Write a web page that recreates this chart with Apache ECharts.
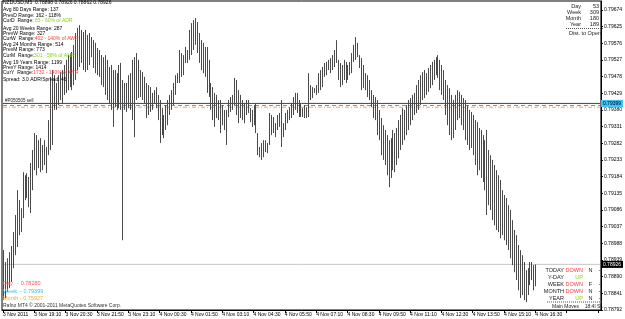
<!DOCTYPE html>
<html>
<head>
<meta charset="utf-8">
<script src="https://cdn.jsdelivr.net/npm/echarts@6/dist/echarts.min.js"></script>
<style>
  html, body { margin: 0; padding: 0; background: #fff; }
  #chart { width: 625px; height: 319px; }
</style>
</head>
<body>
<div id="chart"></div>
<script>
// NZDUSD M5 bars, 3 Nov 2011 17:50 -> 4 Nov 16:30 (high / low of each bar)
const highs = [
  0.78968, 0.78933, 0.78944, 0.78962, 0.78980, 0.79021, 0.79071, 0.79144, 0.79115, 0.79091,
  0.79197, 0.79188, 0.79194, 0.79183, 0.79224, 0.79262, 0.79312, 0.79306, 0.79291, 0.79297,
  0.79277, 0.79291, 0.79271, 0.79350, 0.79477, 0.79497, 0.79482, 0.79459, 0.79482, 0.79491,
  0.79497, 0.79512, 0.79527, 0.79541, 0.79547, 0.79550, 0.79571, 0.79606, 0.79621, 0.79629,
  0.79615, 0.79609, 0.79615, 0.79600, 0.79606, 0.79594, 0.79585, 0.79577, 0.79562, 0.79556,
  0.79541, 0.79535, 0.79541, 0.79527, 0.79506, 0.79512, 0.79497, 0.79497, 0.79488, 0.79512,
  0.79518, 0.79468, 0.79459, 0.79459, 0.79482, 0.79488, 0.79527, 0.79535, 0.79547, 0.79527,
  0.79497, 0.79491, 0.79477, 0.79459, 0.79453, 0.79447, 0.79430, 0.79438, 0.79447, 0.79424,
  0.79409, 0.79385, 0.79365, 0.79394, 0.79409, 0.79424, 0.79438, 0.79459, 0.79482, 0.79488,
  0.79556, 0.79547, 0.79541, 0.79565, 0.79556, 0.79615, 0.79635, 0.79644, 0.79650, 0.79638,
  0.79606, 0.79585, 0.79577, 0.79565, 0.79565, 0.79527, 0.79459, 0.79447, 0.79430, 0.79424,
  0.79409, 0.79409, 0.79394, 0.79380, 0.79380, 0.79409, 0.79418, 0.79424, 0.79474, 0.79468,
  0.79438, 0.79424, 0.79409, 0.79400, 0.79409, 0.79409, 0.79385, 0.79380, 0.79394, 0.79400,
  0.79312, 0.79271, 0.79283, 0.79291, 0.79291, 0.79283, 0.79371, 0.79365, 0.79359, 0.79341,
  0.79365, 0.79371, 0.79409, 0.79341, 0.79371, 0.79380, 0.79388, 0.79400, 0.79418, 0.79430,
  0.79430, 0.79409, 0.79400, 0.79385, 0.79394, 0.79388, 0.79488, 0.79453, 0.79447, 0.79444,
  0.79453, 0.79488, 0.79497, 0.79506, 0.79518, 0.79521, 0.79527, 0.79532, 0.79541, 0.79556,
  0.79585, 0.79527, 0.79518, 0.79512, 0.79527, 0.79521, 0.79512, 0.79521, 0.79547, 0.79571,
  0.79594, 0.79577, 0.79541, 0.79532, 0.79512, 0.79488, 0.79482, 0.79468, 0.79438, 0.79424,
  0.79418, 0.79409, 0.79380, 0.79356, 0.79335, 0.79321, 0.79306, 0.79291, 0.79297, 0.79321,
  0.79312, 0.79327, 0.79350, 0.79365, 0.79385, 0.79380, 0.79394, 0.79409, 0.79415, 0.79424,
  0.79430, 0.79453, 0.79468, 0.79482, 0.79491, 0.79497, 0.79488, 0.79503, 0.79512, 0.79521,
  0.79527, 0.79535, 0.79541, 0.79527, 0.79512, 0.79497, 0.79468, 0.79453, 0.79444, 0.79424,
  0.79409, 0.79424, 0.79438, 0.79433, 0.79424, 0.79415, 0.79409, 0.79394, 0.79380, 0.79374,
  0.79365, 0.79350, 0.79344, 0.79327, 0.79321, 0.79306, 0.79291, 0.79321, 0.79262, 0.79247,
  0.79233, 0.79218, 0.79203, 0.79188, 0.79174, 0.79144, 0.79130, 0.79121, 0.79100, 0.79086,
  0.79056, 0.79027, 0.79012, 0.78983, 0.78968, 0.78953, 0.78933, 0.78909, 0.78915, 0.78933,
  0.78933, 0.78924, 0.78926
];
const lows = [
  0.78821, 0.78827, 0.78845, 0.78856, 0.78874, 0.78915, 0.78953, 0.78977, 0.79012, 0.79021,
  0.79062, 0.79115, 0.79121, 0.79094, 0.79077, 0.79144, 0.79203, 0.79188, 0.79209, 0.79197,
  0.79203, 0.79218, 0.79194, 0.79247, 0.79262, 0.79277, 0.79380, 0.79380, 0.79394, 0.79409,
  0.79400, 0.79424, 0.79430, 0.79438, 0.79447, 0.79438, 0.79453, 0.79468, 0.79497, 0.79506,
  0.79518, 0.79497, 0.79491, 0.79497, 0.79512, 0.79535, 0.79503, 0.79488, 0.79482, 0.79477,
  0.79453, 0.79447, 0.79424, 0.79409, 0.79400, 0.79380, 0.79330, 0.79388, 0.79380, 0.79385,
  0.79380, 0.78997, 0.79380, 0.79374, 0.79385, 0.79380, 0.79350, 0.79300, 0.79409, 0.79415,
  0.79418, 0.79409, 0.79400, 0.79356, 0.79365, 0.79374, 0.79380, 0.79400, 0.79385, 0.79350,
  0.79283, 0.79306, 0.79297, 0.79321, 0.79335, 0.79365, 0.79380, 0.79394, 0.79424, 0.79459,
  0.79459, 0.79477, 0.79482, 0.79518, 0.79518, 0.79527, 0.79541, 0.79556, 0.79571, 0.79547,
  0.79518, 0.79497, 0.79488, 0.79477, 0.79430, 0.79418, 0.79380, 0.79350, 0.79330, 0.79356,
  0.79350, 0.79312, 0.79335, 0.79321, 0.79277, 0.79359, 0.79374, 0.79380, 0.79394, 0.79365,
  0.79341, 0.79356, 0.79350, 0.79341, 0.79365, 0.79371, 0.79344, 0.79330, 0.79335, 0.79312,
  0.79247, 0.79241, 0.79233, 0.79241, 0.79256, 0.79253, 0.79277, 0.79306, 0.79312, 0.79300,
  0.79321, 0.79330, 0.79271, 0.79300, 0.79321, 0.79341, 0.79350, 0.79356, 0.79365, 0.79380,
  0.79371, 0.79359, 0.79359, 0.79359, 0.79356, 0.79356, 0.79359, 0.79409, 0.79415, 0.79430,
  0.79424, 0.79430, 0.79438, 0.79447, 0.79477, 0.79482, 0.79497, 0.79488, 0.79497, 0.79506,
  0.79518, 0.79468, 0.79447, 0.79453, 0.79468, 0.79459, 0.79468, 0.79482, 0.79488, 0.79521,
  0.79527, 0.79535, 0.79503, 0.79438, 0.79444, 0.79438, 0.79418, 0.79409, 0.79388, 0.79356,
  0.79350, 0.79306, 0.79291, 0.79247, 0.79233, 0.79218, 0.79188, 0.79153, 0.79180, 0.79203,
  0.79197, 0.79218, 0.79238, 0.79262, 0.79277, 0.79291, 0.79306, 0.79321, 0.79335, 0.79350,
  0.79365, 0.79371, 0.79380, 0.79394, 0.79409, 0.79415, 0.79424, 0.79433, 0.79444, 0.79453,
  0.79468, 0.79482, 0.79474, 0.79438, 0.79424, 0.79409, 0.79365, 0.79335, 0.79306, 0.79291,
  0.79297, 0.79321, 0.79350, 0.79356, 0.79335, 0.79321, 0.79291, 0.79277, 0.79262, 0.79268,
  0.79247, 0.79218, 0.79188, 0.79203, 0.79180, 0.79168, 0.79144, 0.79071, 0.79100, 0.79086,
  0.79056, 0.79041, 0.79027, 0.79021, 0.79003, 0.79012, 0.78997, 0.78983, 0.78968, 0.78944,
  0.78924, 0.78903, 0.78880, 0.78850, 0.78827, 0.78836, 0.78821, 0.78815, 0.78836, 0.78865,
  0.78880, 0.78850, 0.78862
];
// one label every 16 bars (80 minutes)
const xTickLabels = [
  '3 Nov 2011', '3 Nov 19:10', '3 Nov 20:30', '3 Nov 21:50', '3 Nov 23:10', '4 Nov 00:30',
  '4 Nov 01:50', '4 Nov 03:10', '4 Nov 04:30', '4 Nov 05:50', '4 Nov 07:10', '4 Nov 08:30',
  '4 Nov 09:50', '4 Nov 11:10', '4 Nov 12:30', '4 Nov 13:50', '4 Nov 15:10', '4 Nov 16:30'
];
const barsPerLabel = 16;
const slotCount = 306; // bars + empty shift on the right
const priceMin = 0.78792, priceMax = 0.79700, priceStep = 0.00049;

const bidPrice = 0.78926;
const weekOpen = 0.79399;
const greenLevel = 0.79393;
const orangeLevel = 0.79388;

const header = 'NZDUSD,M5  0.78898 0.78926 0.78862 0.78926';
const rangeRows = [
  ['Avg 80 Days Range: 137', ''],
  ['PrevD Range: 162 - 118%', ''],
  ['CurD  Range: ', '83 - 60% of ADR', 'g'],
  ['Avg 20 Weeks Range: 287', ''],
  ['PrevW Range: 327', ''],
  ['CurW  Range:', '402 - 140% of AWR', 'r'],
  ['Avg 24 Months Range: 514', ''],
  ['PrevM Range: 773', ''],
  ['CurM  Range:', '301 - 58% of AMR', 'g'],
  ['Avg 19 Years Range: 1199', ''],
  ['PrevY Range: 1414', ''],
  ['CurY  Range:', '1732 - 140% of AYR', 'r'],
  ['Spread: 3.0 ADR/Spread: 46', '']
];
const rangeRowY = [10, 15.3, 21, 28.3, 33.7, 39, 44.7, 50, 55.7, 62.3, 67.3, 72.7, 80];

const periodNames = ['Day', 'Week', 'Month', 'Year'];
const periodValues = ['53', '309', '180', '189'];

const moveRows = [
  ['TODAY', 'DOWN', 'N', '--'],
  ['Y-DAY', 'UP', '', ''],
  ['WEEK', 'DOWN', 'F', '--'],
  ['MONTH', 'DOWN', 'N', '--'],
  ['YEAR', 'UP', 'N', '--']
];

const openRows = [
  ['Day   - 0.78280', '#ff5a5a'],
  ['Week  - 0.79399', '#3cbcf0'],
  ['Month - 0.75927', '#ffa533']
];

const FONT = '"Liberation Sans", Arial, sans-serif';
const RED = '#ff3b3b';
const GREEN = '#86d41e';

function txt(x, y, text, fill, align, size) {
  return {
    type: 'text', x: x, y: y, z: 100,
    style: {
      text: text, fill: fill || '#000', align: align || 'left', verticalAlign: 'middle',
      font: (size || 5) + 'px ' + FONT
    }
  };
}
function dotted(x1, x2, y) {
  return {
    type: 'line', z: 100,
    shape: { x1: x1, y1: y, x2: x2, y2: y },
    style: { stroke: '#555', lineWidth: 1, lineDash: [1, 1] }
  };
}

const graphics = [];
graphics.push(txt(3, 2.5, header));
rangeRows.forEach(function (row, i) {
  const y = rangeRowY[i];
  if (row[1]) {
    graphics.push({
      type: 'text', x: 3, y: y, z: 100,
      style: {
        text: '{a|' + row[0] + '}{b|' + row[1] + '}',
        verticalAlign: 'middle', font: '5px ' + FONT,
        rich: {
          a: { fill: '#000', font: '5px ' + FONT },
          b: { fill: row[2] === 'g' ? GREEN : RED, font: '5px ' + FONT }
        }
      }
    });
  } else {
    graphics.push(txt(3, y, row[0]));
  }
});
graphics.push(txt(5, 101, '#P050505 sell', '#222', 'left', 4.5));

// top-right range box
const periodY = [6.7, 12.3, 18.3, 24];
periodNames.forEach(function (n, i) {
  graphics.push(txt(581, periodY[i], n, '#222', 'right', 5.5));
  graphics.push(txt(599, periodY[i], periodValues[i], '#222', 'right', 5.5));
});
graphics.push(dotted(566, 604, 28.5));
graphics.push(txt(585, 33.5, 'Dist. to Open', '#222', 'center', 5.5));

// bottom-right main moves box
const moveY = [270.6, 277.6, 284.5, 291.4, 298.3];
moveRows.forEach(function (r, i) {
  graphics.push(txt(564, moveY[i], r[0], '#222', 'right', 5.5));
  graphics.push(txt(583, moveY[i], r[1], r[1] === 'UP' ? GREEN : RED, 'right', 5.5));
  graphics.push(txt(590.5, moveY[i], r[2], '#222', 'center', 5.5));
  graphics.push(txt(600.5, moveY[i], r[3], '#222', 'center', 5.5));
});
graphics.push(dotted(547, 603, 302));
graphics.push(txt(552, 306.2, 'Main Moves', '#222', 'left', 5));
graphics.push(txt(603, 306.2, '18:4l SL', '#222', 'right', 5));

// bottom-left open prices
const openY = [283.3, 291.7, 298.7];
openRows.forEach(function (r, i) {
  graphics.push(txt(3, openY[i], r[0], r[1], 'left', 5.5));
});
graphics.push(txt(3, 306, 'Rafno MT4 \u00a9 2001-2011 MetaQuotes Software Corp.', '#333', 'left', 5));

const slots = [];
for (let i = 0; i < slotCount; i++) slots.push(String(i));
const barData = highs.map(function (h, i) { return [i, h, lows[i]]; });

// horizontal price level drawn as a two-point line across all slots
function level(value, color, dash, z, tag) {
  return {
    type: 'line',
    data: [[0, value], [slotCount - 1, value]],
    symbol: 'none',
    silent: true,
    z: z,
    lineStyle: { color: color, width: 1, type: dash },
    endLabel: tag ? {
      show: true, distance: 1, formatter: value.toFixed(5),
      backgroundColor: tag.bg, color: tag.fg, fontSize: 5, fontFamily: FONT, padding: [1, 2]
    } : { show: false }
  };
}

const chart = echarts.init(document.getElementById('chart'));
chart.setOption({
  animation: false,
  backgroundColor: '#fff',
  grid: { left: 1, right: 19, top: 1, bottom: 9, show: true, borderColor: '#000', borderWidth: 1 },
  xAxis: {
    type: 'category',
    data: slots,
    boundaryGap: true,
    axisLine: { lineStyle: { color: '#000' } },
    axisTick: { show: true, interval: barsPerLabel - 1, alignWithLabel: true, length: 3, lineStyle: { color: '#000' } },
    axisLabel: {
      interval: barsPerLabel - 1,
      align: 'left',
      margin: 2,
      fontSize: 5,
      fontFamily: FONT,
      color: '#000',
      hideOverlap: false,
      formatter: function (v, idx) {
        const k = idx / barsPerLabel;
        return xTickLabels[k] || '';
      }
    },
    splitLine: { show: false }
  },
  yAxis: {
    type: 'value',
    position: 'right',
    min: priceMin,
    max: priceMax,
    interval: priceStep,
    axisLine: { show: true, lineStyle: { color: '#000' } },
    axisTick: { show: true, length: 2, lineStyle: { color: '#000' } },
    axisLabel: {
      margin: 3,
      fontSize: 5,
      fontFamily: FONT,
      color: '#000',
      showMaxLabel: false,
      formatter: function (v) { return v.toFixed(5); }
    },
    splitLine: { show: false }
  },
  graphic: graphics,
  series: [
    level(bidPrice, '#c8c8c8', 'solid', 1, { bg: '#000', fg: '#fff' }),
    level(orangeLevel, '#f0a070', [4, 2, 1, 2], 1),
    level(greenLevel, '#6aa84f', [4, 3], 1),
    level(weekOpen, '#444', 'solid', 1, { bg: '#3cc3f3', fg: '#002' }),
    {
      type: 'custom',
      data: barData,
      encode: { x: 0, y: [1, 2] },
      clip: true,
      z: 2,
      renderItem: function (params, api) {
        const top = api.coord([api.value(0), api.value(1)]);
        const bot = api.coord([api.value(0), api.value(2)]);
        const x = Math.round(top[0]) + 0.5;
        return {
          type: 'line',
          shape: { x1: x, y1: top[1], x2: x, y2: bot[1] },
          style: { stroke: '#4a4a4a', lineWidth: 1 }
        };
      }
    }
  ]
});
</script>
</body>
</html>
